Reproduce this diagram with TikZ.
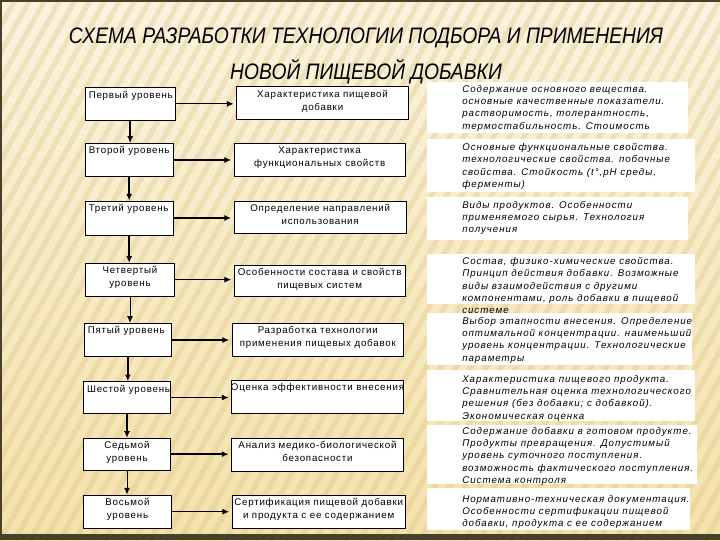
\documentclass[tikz,border=0pt]{standalone}
\usepackage{graphicx}
\usepackage{fontspec}
\setmainfont{Liberation Sans}
\newfontfamily\boxfont[LetterSpace=8]{Liberation Sans}
\newfontfamily\notefont[LetterSpace=10]{Liberation Sans}
\usetikzlibrary{arrows.meta,fit}

\definecolor{bgtop}{RGB}{250,243,222}
\definecolor{bgbot}{RGB}{244,226,172}
\definecolor{stripecol}{RGB}{214,184,112}
\definecolor{framecol}{RGB}{72,64,42}

\newcommand{\ttltext}[1]{\scalebox{.86}[1]{#1}}

\tikzset{
  lvl/.style={draw,fill=white,inner sep=0pt,line width=.75pt},
  lvltxt/.style={anchor=north west,inner xsep=3pt,inner ysep=2.5pt,align=left,
    font=\boxfont\fontsize{7.3}{10}\selectfont},
  midtxt/.style={anchor=north,inner xsep=1pt,inner ysep=2.5pt,align=center,
    font=\boxfont\fontsize{7.3}{10}\selectfont},
  note/.style={fill=white,inner sep=0pt},
  notetxt/.style={anchor=north west,inner sep=0pt,align=left,
    font=\notefont\itshape\fontsize{7.3}{9.2}\selectfont},
  flow/.style={-{Latex[length=5pt,width=4.5pt]}},
  ttl/.style={font=\itshape\fontsize{16.8}{20}\selectfont}
}

\begin{document}
\begin{tikzpicture}[x=.75pt,y=-.75pt]
  \useasboundingbox (0,0) rectangle (720,540);
  % background
  \fill[top color=bgtop,bottom color=bgbot] (0,0) rectangle (720,540);
  \begin{scope}
    \clip (0,0) rectangle (720,540);
    \foreach \s in {-330,-315,...,720} {
      \draw[stripecol,opacity=.28,line width=4pt] (\s,540)--(\s+300,0);
    }
  \end{scope}
  \fill[framecol] (0,0) rectangle (720,1.5);
  \fill[framecol] (0,0) rectangle (2,540);
  \fill[framecol] (0,534) rectangle (720,540);

  % title
  \node[ttl] (ttl1) at (366,38) {\ttltext{СХЕМА РАЗРАБОТКИ ТЕХНОЛОГИИ ПОДБОРА И ПРИМЕНЕНИЯ}};
  \node[ttl] (ttl2) at (366,72) {\ttltext{НОВОЙ ПИЩЕВОЙ ДОБАВКИ}};

  % levels
  \node[lvl,fit={(85,87.7) (175.3,120)},label={[lvltxt]north west:Первый уровень}] (b1) {};
  \node[lvl,fit={(85,143.3) (173.3,176.7)},label={[lvltxt]north west:Второй уровень}] (b2) {};
  \node[lvl,fit={(85,201) (173.3,235)},label={[lvltxt]north west:Третий уровень}] (b3) {};
  \node[lvl,fit={(85.7,263.3) (174.3,296)},label={[midtxt]north:{Четвертый\\уровень}}] (b4) {};
  \node[lvl,fit={(84,323.3) (171.7,356.7)},label={[lvltxt]north west:Пятый уровень}] (b5) {};
  \node[lvl,fit={(83.3,381.7) (170.7,413.3)},label={[lvltxt]north west:Шестой уровень}] (b6) {};
  \node[lvl,fit={(83.3,438.3) (170.7,470)},label={[midtxt]north:{Седьмой\\уровень}}] (b7) {};
  \node[lvl,fit={(83.3,495) (171.7,528.3)},label={[midtxt]north:{Восьмой\\уровень}}] (b8) {};

  % stages
  \node[lvl,fit={(236.7,86.7) (408.3,119.3)},label={[midtxt]north:{Характеристика пищевой\\добавки}}] (m1) {};
  \node[lvl,fit={(234.3,143.3) (405,176.7)},label={[midtxt]north:{Характеристика\\функциональных свойств}}] (m2) {};
  \node[lvl,fit={(234.3,201) (406,233)},label={[midtxt]north:{Определение направлений\\использования}}] (m3) {};
  \node[lvl,fit={(234.3,265) (405,296)},label={[midtxt]north:{Особенности состава и свойств\\пищевых систем}}] (m4) {};
  \node[lvl,fit={(232.3,323.3) (403.3,356.7)},label={[midtxt]north:{Разработка технологии\\применения пищевых добавок}}] (m5) {};
  \node[lvl,fit={(231.7,380) (403.3,413.3)},label={[midtxt]north:Оценка эффективности внесения}] (m6) {};
  \node[lvl,fit={(231.7,438.3) (403.3,471.7)},label={[midtxt]north:{Анализ медико-биологической\\безопасности}}] (m7) {};
  \node[lvl,fit={(232.3,495) (405,528.3)},label={[midtxt]north:{Сертификация пищевой добавки\\и продукта с ее содержанием}}] (m8) {};

  % notes
  \node[note,fit={(427,82) (688,133)}] (r1) {};
  \node[note,fit={(427,139) (695,192)}] (r2) {};
  \node[note,fit={(427,197) (688,240)}] (r3) {};
  \node[note,fit={(427,254) (695,304)}] (r4) {};
  \node[note,fit={(427,313) (692,365)}] (r5) {};
  \node[note,fit={(427,370) (695,421)}] (r6) {};
  \node[note,fit={(427,425) (697,484)}] (r7) {};
  \node[note,fit={(427,488) (690,530)}] (r8) {};

  \node[notetxt] (n1) at (462,85) {Содержание основного вещества.\\основные качественные показатели.\\растворимость, толерантность,\\термостабильность. Стоимость};
  \node[notetxt] (n2) at (462,143) {Основные функциональные свойства.\\технологические свойства. побочные\\свойства. Стойкость (t°,pH среды,\\ферменты)};
  \node[notetxt] (n3) at (462,201) {Виды продуктов. Особенности\\применяемого сырья. Технология\\получения};
  \node[notetxt] (n4) at (462,257) {Состав, физико-химические свойства.\\Принцип действия добавки. Возможные\\виды взаимодействия с другими\\компонентами, роль добавки в пищевой\\системе};
  \node[notetxt] (n5) at (462,317) {Выбор этапности внесения. Определение\\оптимальной концентрации. наименьший\\уровень концентрации. Технологические\\параметры};
  \node[notetxt] (n6) at (462,375) {Характеристика пищевого продукта.\\Сравнительная оценка технологического\\решения (без добавки; с добавкой).\\Экономическая оценка};
  \node[notetxt] (n7) at (462,427) {Содержание добавки в готовом продукте.\\Продукты превращения. Допустимый\\уровень суточного поступления.\\возможность фактического поступления.\\Система контроля};
  \node[notetxt] (n8) at (462,495) {Нормативно-техническая документация.\\Особенности сертификации пищевой\\добавки, продукта с ее содержанием};

  % arrows
  \foreach \a/\b/\w in {b1/b2/1.5pt,b2/b3/1.5pt,b3/b4/1.5pt,b4/b5/.75pt,b5/b6/1pt,b6/b7/1.5pt,b7/b8/.75pt} {
    \draw[flow,line width=\w] (\a.south)--(\a.south |- \b.north);
  }
  \foreach \i/\w in {1/.75pt,2/1.5pt,3/1.5pt,4/.75pt,5/1.5pt,6/.75pt,7/1.5pt,8/1.2pt} {
    \draw[flow,line width=\w,shorten >=2pt] (b\i.east)--(b\i.east -| m\i.west);
  }
\end{tikzpicture}
\end{document}
